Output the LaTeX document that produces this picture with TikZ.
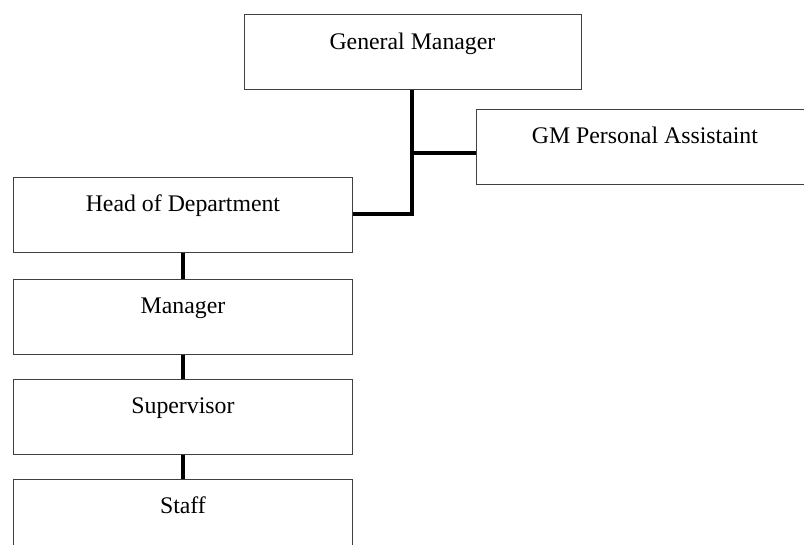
\documentclass[tikz,border=0pt]{standalone}
\usepackage{fontspec}
\setmainfont{Liberation Serif}
\begin{document}
\begin{tikzpicture}[x=1pt,y=-1pt,
  orgbox/.style={draw=black!75, line width=0.9pt, fill=white, rectangle,
    inner sep=0pt, text height=34.5pt, text depth=40.5pt,
    font=\fontsize{23.8}{28}\selectfont},
  link/.style={line width=4pt, black}]
\useasboundingbox (0,0) rectangle (804,545);
\clip (0,0) rectangle (804,545);
\node[orgbox, minimum width=337pt, anchor=north west] (gm) at (243.5,14.5) {General Manager};
\node[orgbox, minimum width=337pt, anchor=north west] (pa) at (476,109) {GM Personal Assistaint};
\node[orgbox, minimum width=339pt, anchor=north west] (hod) at (13,177) {Head of Department};
\node[orgbox, minimum width=339pt, anchor=north west] (mgr) at (13,279) {Manager};
\node[orgbox, minimum width=339pt, anchor=north west] (sup) at (13,379) {Supervisor};
\node[orgbox, minimum width=339pt, anchor=north west] (staff) at (13,479) {Staff};
\coordinate (j1) at (gm.south |- 0,153);
\coordinate (j2) at (gm.south |- 0,214.5);
\draw[link] (gm.south) -- (j2) -- (hod.east |- j2);
\draw[link] (j1) -- (pa.west |- j1);
\draw[link] (hod.south) -- (mgr.north);
\draw[link] (mgr.south) -- (sup.north);
\draw[link] (sup.south) -- (staff.north);
\end{tikzpicture}
\end{document}
